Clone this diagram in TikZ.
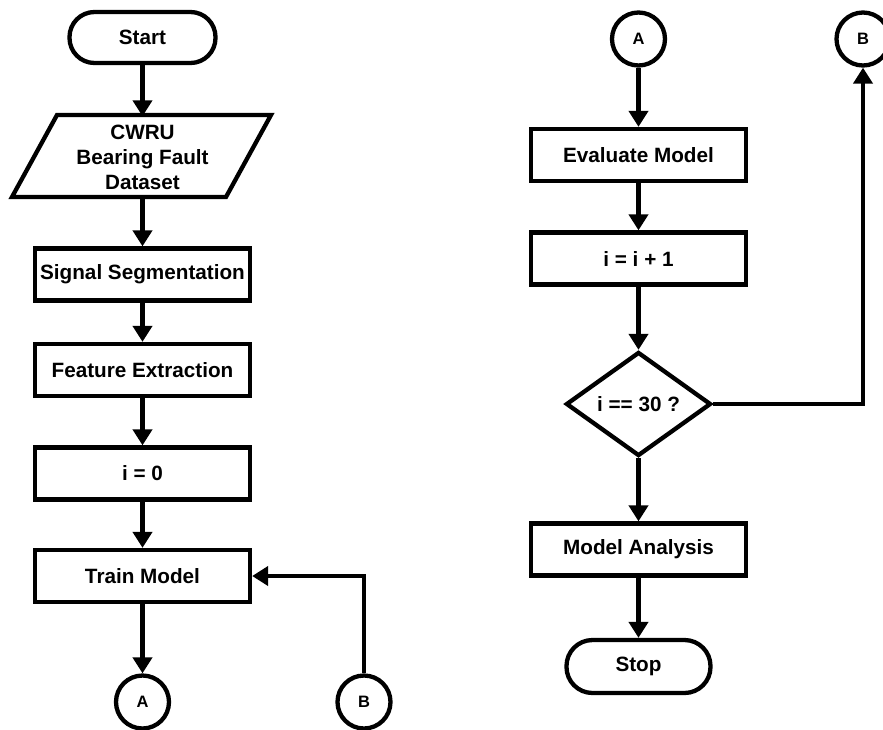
\documentclass[tikz,border=0pt]{standalone}
\usepackage{fontspec}
\setmainfont{Liberation Sans}
\usetikzlibrary{arrows.meta,shapes.geometric}
\tikzset{
  every node/.style={font=\bfseries\fontsize{20.7}{25}\selectfont, inner sep=0pt},
  flow/.style={line width=4.3pt},
  procbox/.style={flow, draw, rectangle, minimum width=215pt, minimum height=52pt},
  termbox/.style={flow, draw, rectangle, rounded corners=25pt, minimum width=146pt, minimum height=51pt},
  conn/.style={flow, draw, circle, minimum size=53pt, font=\bfseries\fontsize{16.5}{18}\selectfont},
  decbox/.style={flow, draw, diamond, minimum width=145pt, minimum height=104pt, aspect=1.4},
  arr/.style={flow, -{Triangle[length=16pt,width=19pt]}}
}
\begin{document}
\begin{tikzpicture}[x=1pt,y=-1pt]
\useasboundingbox (0,0) rectangle (883,729);
% left column
\node[termbox] (start) at (142.5,37.5) {Start};
\node[align=center, minimum width=259pt, minimum height=82pt] (data) at (142.5,157.5) {CWRU\\Bearing Fault\\Dataset};
\draw[flow, line join=miter] (57,115) -- (271,115) -- (226,197) -- (12,197) -- cycle;
\node[procbox] (seg) at (142.5,274.5) {Signal Segmentation};
\node[procbox] (feat) at (142.5,370) {Feature Extraction};
\node[procbox] (init) at (142.5,473.5) {i = 0};
\node[procbox] (train) at (142.5,576) {Train Model};
\node[conn] (Aout) at (142.5,702) {A};
\node[conn] (Bin) at (364,702) {B};
% right column
\node[conn] (Ain) at (638.5,39) {A};
\node[conn] (Bout) at (863,39) {B};
\node[procbox] (eval) at (638.5,155) {Evaluate Model};
\node[procbox] (inc) at (638.5,258.5) {i = i + 1};
\node[decbox] (dec) at (638.5,404) {i == 30 ?};
\node[procbox] (anal) at (638.5,549.5) {Model Analysis};
\node[termbox, minimum width=144pt, minimum height=53pt, rounded corners=26pt] (stop) at (638.5,666.5) {Stop};
% connectors
\draw[arr] (start) -- (start |- data.north);
\draw[arr] (start |- data.south) -- (seg);
\draw[arr] (seg) -- (feat);
\draw[arr] (feat) -- (init);
\draw[arr] (init) -- (train);
\draw[arr] (train) -- (Aout);
\draw[arr] (Bin.north) |- (train.east);
\draw[arr] (Ain) -- (eval);
\draw[arr] (eval) -- (inc);
\draw[arr] (inc) -- (dec);
\draw[arr] (dec.east) -| (Bout.south);
\draw[arr] (dec) -- (anal);
\draw[arr] (anal) -- (stop);
\end{tikzpicture}
\end{document}
